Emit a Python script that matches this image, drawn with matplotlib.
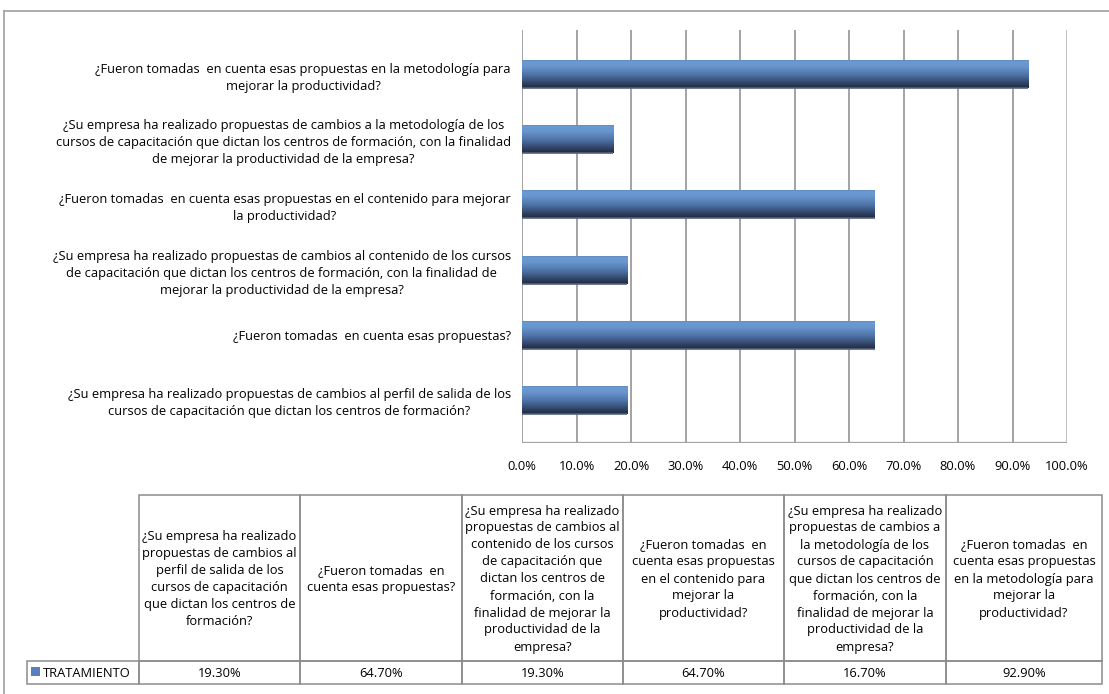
import numpy as np
import matplotlib
matplotlib.use("Agg")
import matplotlib.pyplot as plt
from matplotlib.colors import LinearSegmentedColormap
from matplotlib.patches import Rectangle
from matplotlib.lines import Line2D

# --- data -------------------------------------------------------------
serie = "TRATAMIENTO"
valores = [19.3, 64.7, 19.3, 64.7, 16.7, 92.9]

etiquetas_eje = [
    "¿Su empresa ha realizado propuestas de cambios al perfil de salida de los\n"
    "cursos de capacitación que dictan los centros de formación?",
    "¿Fueron tomadas  en cuenta esas propuestas?",
    "¿Su empresa ha realizado propuestas de cambios al contenido de los cursos\n"
    "de capacitación que dictan los centros de formación, con la finalidad de\n"
    "mejorar la productividad de la empresa?",
    "¿Fueron tomadas  en cuenta esas propuestas en el contenido para mejorar\n"
    "la productividad?",
    "¿Su empresa ha realizado propuestas de cambios a la metodología de los\n"
    "cursos de capacitación que dictan los centros de formación, con la finalidad\n"
    "de mejorar la productividad de la empresa?",
    "¿Fueron tomadas  en cuenta esas propuestas en la metodología para\n"
    "mejorar la productividad?",
]

etiquetas_tabla = [
    "¿Su empresa ha realizado\npropuestas de cambios al\nperfil de salida de los\n"
    "cursos de capacitación\nque dictan los centros de\nformación?",
    "¿Fueron tomadas  en\ncuenta esas propuestas?",
    "¿Su empresa ha realizado\npropuestas de cambios al\ncontenido de los cursos\n"
    "de capacitación que\ndictan los centros de\nformación, con la\n"
    "finalidad de mejorar la\nproductividad de la\nempresa?",
    "¿Fueron tomadas  en\ncuenta esas propuestas\nen el contenido para\n"
    "mejorar la\nproductividad?",
    "¿Su empresa ha realizado\npropuestas de cambios a\nla metodología de los\n"
    "cursos de capacitación\nque dictan los centros de\nformación, con la\n"
    "finalidad de mejorar la\nproductividad de la\nempresa?",
    "¿Fueron tomadas  en\ncuenta esas propuestas\nen la metodología para\n"
    "mejorar la\nproductividad?",
]

ticks = np.arange(0, 101, 10)

# --- figure -----------------------------------------------------------
W, H = 1109, 694
FS = 9.3
LS = 1.4
plt.rcParams["font.family"] = ["Open Sans", "DejaVu Sans"]
fig = plt.figure(figsize=(W / 100, H / 100), dpi=100)
fig.patch.set_facecolor("white")


def fx(px):
    return px / W


def fy(py):
    return 1 - py / H


# outer chart frame
fig.add_artist(Line2D([fx(4), fx(W)], [fy(11), fy(11)], color="#a0a0a0", lw=1.2))
fig.add_artist(Line2D([fx(4), fx(4)], [fy(11), fy(H)], color="#a0a0a0", lw=1.2))

# --- bar chart --------------------------------------------------------
ax = fig.add_axes([fx(522), fy(443), fx(1067) - fx(522), fy(30) - fy(443)])
y = np.arange(len(valores))
bars = ax.barh(y, valores, height=0.43, color="#5f8ac4", edgecolor="none", zorder=3)

grad = LinearSegmentedColormap.from_list(
    "barra", [(0.0, "#1f2a40"), (0.12, "#2c3c5c"), (0.45, "#4d72a6"),
              (0.75, "#6795cd"), (0.92, "#6b99d1"), (1.0, "#5c83b6")])
gimg = np.linspace(0, 1, 64).reshape(-1, 1)
for b in bars:
    x0, y0, w, h = b.get_x(), b.get_y(), b.get_width(), b.get_height()
    im = ax.imshow(gimg, cmap=grad, origin="lower", aspect="auto",
                   extent=[x0, x0 + w, y0, y0 + h], zorder=4)
    im.set_clip_path(b)
    ax.plot([x0, x0 + w], [y0, y0], color="#56617a", lw=1.2, zorder=5,
            solid_capstyle="butt")
ax.set_xlim(0, 100)
ax.set_ylim(-0.66, 5.675)

for t in ticks:
    ax.axvline(t, color="#c4c4c4" if t == 100 else "#a3a3a3",
               lw=2.2 if t == 100 else 1.4, zorder=1)
ax.axhline(-0.66, color="#a3a3a3", lw=1.6, zorder=2)

for s in ax.spines.values():
    s.set_visible(False)
ax.set_xticks(ticks)
ax.set_xticklabels([f"{t:.1f}%" for t in ticks])
ax.set_yticks(y)
ax.set_yticklabels(etiquetas_eje, multialignment="center")
ax.tick_params(axis="x", length=0, pad=12, labelsize=FS, colors="#000000")
ax.tick_params(axis="y", length=0, pad=8, labelsize=FS, colors="#000000")
for lbl in ax.get_yticklabels():
    lbl.set_linespacing(LS)

# --- data table -------------------------------------------------------
col_px = [27, 139, 300, 462, 623, 784, 946, 1102]
top_px, mid_px, bot_px = 495, 661, 684
tax = fig.add_axes([0, 0, 1, 1])
tax.set_xlim(0, W)
tax.set_ylim(H, 0)
tax.axis("off")

edge = "#8c8c8c"
for i, (lbl, v) in enumerate(zip(etiquetas_tabla, valores)):
    xl, xr = col_px[i + 1], col_px[i + 2]
    tax.add_patch(Rectangle((xl, top_px), xr - xl, mid_px - top_px,
                            fill=False, ec=edge, lw=1.1))
    tax.add_patch(Rectangle((xl, mid_px), xr - xl, bot_px - mid_px,
                            fill=False, ec=edge, lw=1.1))
    tax.text((xl + xr) / 2, (top_px + mid_px) / 2 + 1, lbl, ha="center",
             va="center", fontsize=FS, linespacing=LS, color="#000000")
    tax.text((xl + xr) / 2, (mid_px + bot_px) / 2 + 1, f"{v:.2f}%",
             ha="center", va="center", fontsize=FS, color="#000000")

tax.add_patch(Rectangle((col_px[0], mid_px), col_px[1] - col_px[0],
                        bot_px - mid_px, fill=False, ec=edge, lw=1.1))
tax.add_patch(Rectangle((31, 667), 9, 9, color="#5b7fbd", lw=0))
tax.text(43, (mid_px + bot_px) / 2 + 1, serie, ha="left", va="center",
         fontsize=FS, color="#000000")

fig.savefig("out.png", dpi=100)
